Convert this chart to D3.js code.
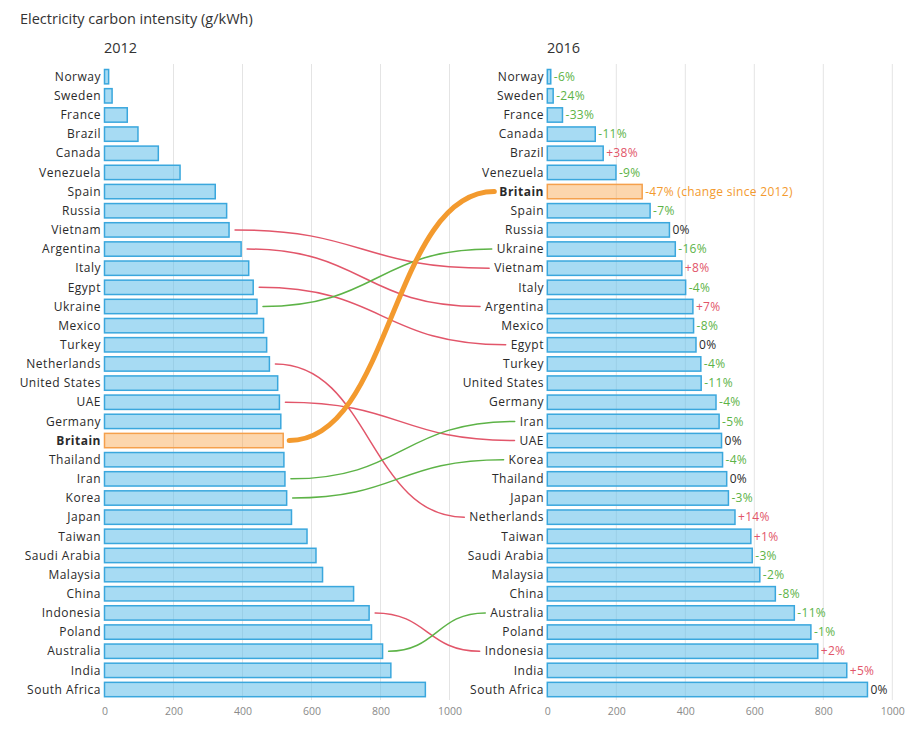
<!DOCTYPE html>
<html><head><meta charset="utf-8">
<script src="https://cdn.jsdelivr.net/npm/d3@7"></script>
<style>
body{margin:0;background:#fff}
text{font-family:"Open Sans",sans-serif}
</style>
</head><body>
<svg id="c" width="916" height="743"></svg>
<script>
// ---- data ----
const countries2012 = ["Norway","Sweden","France","Brazil","Canada","Venezuela","Spain","Russia","Vietnam","Argentina","Italy","Egypt","Ukraine","Mexico","Turkey","Netherlands","United States","UAE","Germany","Britain","Thailand","Iran","Korea","Japan","Taiwan","Saudi Arabia","Malaysia","China","Indonesia","Poland","Australia","India","South Africa"];
const values2012 = [12,22,66,97,156,219,321,354,361,396,418,431,442,461,470,478,502,507,511,518,520,523,528,542,587,613,632,722,767,774,806,830,930];

const countries2016 = ["Norway","Sweden","France","Canada","Brazil","Venezuela","Britain","Spain","Russia","Ukraine","Vietnam","Italy","Argentina","Mexico","Egypt","Turkey","United States","Germany","Iran","UAE","Korea","Thailand","Japan","Netherlands","Taiwan","Saudi Arabia","Malaysia","China","Australia","Poland","Indonesia","India","South Africa"];
const values2016 = [10,17,44,139,162,199,275,298,354,371,390,401,422,424,431,445,446,489,498,505,508,520,525,544,590,594,616,661,716,764,784,868,928];
const change2016 = [-6,-24,-33,-11,38,-9,-47,-7,0,-16,8,-4,7,-8,0,-4,-11,-4,-5,0,-4,0,-3,14,1,-3,-2,-8,-11,-1,2,5,0];

const tickValues = [0,200,400,600,800,1000];
const highlight = "Britain";
const titleText = "Electricity carbon intensity (g/kWh)";
const yearLabels = ["2012","2016"];

// ---- drawing ----
const svg = d3.select("#c");
const C = {
  bar:"#5fbde9", barStroke:"#3aa7dd", hi:"#f9a44a", hiStroke:"#f5a04c",
  grid:"#e4e4e4", text:"#2a2a2a", tick:"#8a8a8a",
  red:"#e2566a", green:"#5db347", orange:"#f39a2e"
};

const xL = d3.scaleLinear().domain([0,1000]).range([104.5,449.5]);
const xR = d3.scaleLinear().domain([0,1000]).range([547.3,892.3]);
const yL = d3.scaleBand().domain(countries2012).range([67.1,699.1]).paddingInner(0.25).paddingOuter(0.125);
const yR = d3.scaleBand().domain(countries2016).range([67.1,699.1]).paddingInner(0.25).paddingOuter(0.125);

svg.append("text").attr("x",20).attr("y",24).attr("font-size",14.5).attr("fill","#333").text(titleText);
svg.append("text").attr("x",104).attr("y",53).attr("font-size",14.5).attr("fill","#333").text(yearLabels[0]);
svg.append("text").attr("x",547).attr("y",53).attr("font-size",14.5).attr("fill","#333").text(yearLabels[1]);

// gridlines
[xL,xR].forEach(x=>{
  svg.append("g").selectAll("line").data(tickValues.filter(t=>t>0)).join("line")
    .attr("x1",d=>x(d)).attr("x2",d=>x(d)).attr("y1",64).attr("y2",700)
    .attr("stroke",C.grid).attr("stroke-width",1);
});

// axes
[xL,xR].forEach(x=>{
  const g = svg.append("g").attr("transform","translate(0,701)")
    .call(d3.axisBottom(x).tickValues(tickValues).tickSize(0).tickPadding(7).tickFormat(d3.format("d")));
  g.select(".domain").remove();
  g.selectAll("text").attr("font-size",10.5).attr("fill",C.tick).attr("font-family","Open Sans, sans-serif");
});

// left labels
svg.append("g").selectAll("text").data(countries2012).join("text")
  .attr("x",101).attr("y",d=>yL(d)+yL.bandwidth()/2).attr("dy","0.35em")
  .attr("text-anchor","end").attr("font-size",12).attr("letter-spacing",0.5)
  .attr("font-weight",d=>d===highlight?700:400).attr("fill",C.text).text(d=>d);

// right labels
const rLabels = svg.append("g").selectAll("text").data(countries2016).join("text")
  .attr("x",544).attr("y",d=>yR(d)+yR.bandwidth()/2).attr("dy","0.35em")
  .attr("text-anchor","end").attr("font-size",12).attr("letter-spacing",0.5)
  .attr("font-weight",d=>d===highlight?700:400).attr("fill",C.text).text(d=>d);

const leftEdge = {};
rLabels.each(function(d){ leftEdge[d] = this.getBBox().x; });

// connectors
const link = d3.linkHorizontal().x(d=>d[0]).y(d=>d[1]);
const links = countries2012.map((c,i)=>{
  const j = countries2016.indexOf(c);
  return {c, i, j, v: values2012[i]};
}).filter(d=>d.c===highlight || Math.abs(d.j-d.i)>=2);

svg.append("g").attr("fill","none").selectAll("path").data(links).join("path")
  .attr("d",d=>link({source:[xL(d.v)+6, yL(d.c)+yL.bandwidth()/2],
                     target:[leftEdge[d.c]-5, yR(d.c)+yR.bandwidth()/2]}))
  .attr("stroke",d=>d.c===highlight?C.orange:(d.j>d.i?C.red:C.green))
  .attr("stroke-width",d=>d.c===highlight?5:1.5)
  .attr("stroke-linecap","round");

// bars left
svg.append("g").selectAll("rect").data(countries2012).join("rect")
  .attr("x",xL(0)).attr("y",d=>yL(d)).attr("height",yL.bandwidth())
  .attr("width",(d,i)=>xL(values2012[i])-xL(0))
  .attr("fill",d=>d===highlight?C.hi:C.bar).attr("fill-opacity",d=>d===highlight?0.45:0.55)
  .attr("stroke",d=>d===highlight?C.hiStroke:C.barStroke).attr("stroke-width",1.5);

// bars right
svg.append("g").selectAll("rect").data(countries2016).join("rect")
  .attr("x",xR(0)).attr("y",d=>yR(d)).attr("height",yR.bandwidth())
  .attr("width",(d,i)=>xR(values2016[i])-xR(0))
  .attr("fill",d=>d===highlight?C.hi:C.bar).attr("fill-opacity",d=>d===highlight?0.45:0.55)
  .attr("stroke",d=>d===highlight?C.hiStroke:C.barStroke).attr("stroke-width",1.5);

// change labels
const fmt = v => v>0 ? "+"+v+"%" : (v<0 ? "-"+Math.abs(v)+"%" : "0%");
svg.append("g").selectAll("text").data(countries2016).join("text")
  .attr("x",(d,i)=>xR(values2016[i])+3).attr("y",d=>yR(d)+yR.bandwidth()/2).attr("dy","0.35em")
  .attr("font-size",12).attr("letter-spacing",0.3)
  .attr("fill",(d,i)=>d===highlight?C.orange:(change2016[i]>0?C.red:(change2016[i]<0?C.green:C.text)))
  .text((d,i)=>fmt(change2016[i]) + (d===highlight?" (change since 2012)":""));
</script>
</body></html>
